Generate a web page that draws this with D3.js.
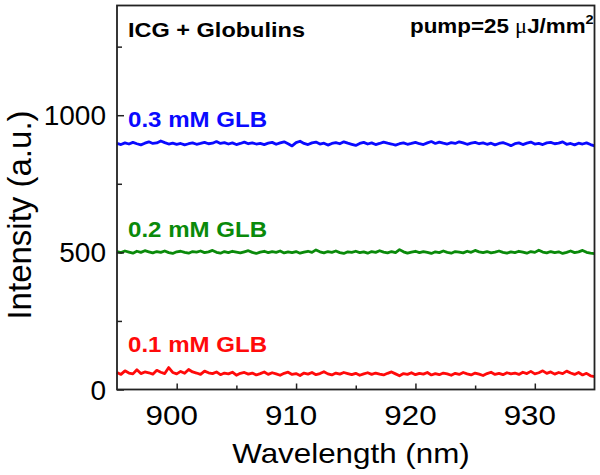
<!DOCTYPE html>
<html><head><meta charset="utf-8">
<script src="https://cdn.jsdelivr.net/npm/d3@7"></script>
<style>body{margin:0;background:#fff}text{font-family:"Liberation Sans",Arial,sans-serif}</style>
</head><body>
<svg id="c" width="600" height="475"></svg>
<script>
const wavelengthDomain = [895, 935];
const intensityDomain = [0, 1400];
const xMajorTicks = [900, 910, 920, 930];
const xMinorTicks = [905, 915, 925];
const yMajorTicks = [0, 500, 1000];
const yMinorTicks = [250, 750, 1250];
const seriesLabels = ["0.3 mM GLB", "0.2 mM GLB", "0.1 mM GLB"];
const seriesColors = ["#0a0aff", "#0a8a0a", "#ff0a0a"];

const glb03 = [897,893,899,895,901,896,892,898,903,897,899,906,900,895,898,894,897,892,896,899,
894,897,901,896,898,904,897,900,895,899,893,897,902,896,899,895,897,893,898,901,
894,899,903,896,888,900,905,897,893,899,902,895,898,891,897,900,896,903,898,894,
890,897,901,895,899,893,897,902,898,895,891,896,899,894,897,901,896,893,899,904,
897,902,898,895,900,897,903,899,894,898,901,896,899,894,898,892,897,900,895,889,
896,899,893,898,902,895,897,893,899,901,896,898,903,894,897,892,898,895,899,893,888];
const glb02 = [503,499,505,501,497,504,500,506,502,498,503,500,505,499,496,502,504,500,497,503,
501,505,499,502,507,500,497,503,499,504,501,498,502,506,500,496,501,504,499,503,
500,505,498,502,499,503,497,501,504,500,509,502,498,503,500,505,499,496,502,500,
504,499,502,497,503,500,506,501,498,503,499,510,502,497,501,504,499,503,500,496,
502,499,505,500,497,503,501,498,504,500,507,502,499,503,498,501,505,500,497,502,
499,504,501,497,503,500,508,501,498,503,499,502,496,500,505,499,502,507,500,497,495];
const glb01 = [62,55,68,60,57,72,58,64,61,56,70,63,58,80,62,57,66,59,73,64,
60,55,67,61,58,64,54,60,57,63,52,59,62,56,60,53,58,64,55,61,
57,52,59,63,55,58,51,60,56,62,54,58,65,57,53,60,56,62,58,54,
59,52,57,61,55,60,56,53,59,64,57,50,58,55,61,54,59,56,62,53,
58,54,60,57,52,59,55,62,57,53,60,56,51,58,63,55,59,54,61,57,
60,55,63,58,66,57,61,68,59,64,56,62,58,67,60,55,62,53,59,50,47];
const seriesValues = [glb03, glb02, glb01];

const svg = d3.select("#c");
const L = 117, R = 594.5, T = 5.5, B = 389.5;
const sx = 1.12;
const x = d3.scaleLinear().domain(wavelengthDomain).range([L, R]);
const y = d3.scaleLinear().domain(intensityDomain).range([B, T]);

// series
seriesValues.forEach((vals, k) => {
  const n = vals.length;
  const pts = vals.map((v, i) => [wavelengthDomain[0] + i * (wavelengthDomain[1] - wavelengthDomain[0]) / (n - 1), v]);
  svg.append("path").datum(pts)
    .attr("fill", "none").attr("stroke", seriesColors[k]).attr("stroke-width", 2.8)
    .attr("stroke-linejoin", "round")
    .attr("d", d3.line().x(d => x(d[0])).y(d => y(d[1])));
});

// axes (ticks inward)
svg.append("g").attr("transform", `translate(0,${B})`)
  .call(d3.axisBottom(x).tickValues(xMajorTicks).tickSize(-6).tickFormat(""));
svg.append("g").attr("transform", `translate(0,${B})`)
  .call(d3.axisBottom(x).tickValues(xMinorTicks).tickSize(-4).tickFormat(""));
svg.append("g").attr("transform", `translate(${L},0)`)
  .call(d3.axisLeft(y).tickValues(yMajorTicks).tickSize(-7).tickFormat(""));
svg.append("g").attr("transform", `translate(${L},0)`)
  .call(d3.axisLeft(y).tickValues(yMinorTicks).tickSize(-5).tickFormat(""));
svg.selectAll(".domain").remove();
svg.selectAll(".tick line").attr("stroke", "#222").attr("stroke-width", 1.5);

// frame
svg.append("rect").attr("x", L).attr("y", T).attr("width", R - L).attr("height", B - T)
  .attr("fill", "none").attr("stroke", "#222").attr("stroke-width", 1.8);

function txt(px, py, s, opts) {
  const k = opts.stretch === undefined ? sx : opts.stretch;
  const t = svg.append("text").attr("transform", `translate(${px},${py}) scale(${k},1)`)
    .attr("font-size", opts.size).attr("fill", opts.color || "#000")
    .attr("font-weight", opts.weight || "normal")
    .attr("text-anchor", opts.anchor || "start").text(s);
  return t;
}

// tick labels
xMajorTicks.forEach(v => txt(x(v) - 5, 425, String(v), {size: 28, anchor: "middle"}));
yMajorTicks.forEach(v => txt(106, y(v) + 10, String(v), {size: 28, anchor: "end", stretch: 1}));

// axis titles
txt(351, 463, "Wavelength (nm)", {size: 28, anchor: "middle"});
svg.append("text").attr("transform", `translate(31,215) rotate(-90)`)
  .attr("font-size", 33).attr("text-anchor", "middle").text("Intensity (a.u.)");

// annotations
txt(128, 37, "ICG + Globulins", {size: 21, weight: "bold"});
const p = txt(410, 33, "pump=25 ", {size: 20, weight: "bold"});
p.append("tspan").attr("font-family", "Liberation Serif").attr("font-weight", "normal").text("\u03bc");
p.append("tspan").text("J/mm");
p.append("tspan").attr("font-size", 13).attr("dy", -9).text("2");

const labelY = [127, 237, 352];
seriesLabels.forEach((s, k) => txt(128, labelY[k], s, {size: 21.5, weight: "bold", color: seriesColors[k]}));
</script>
</body></html>
